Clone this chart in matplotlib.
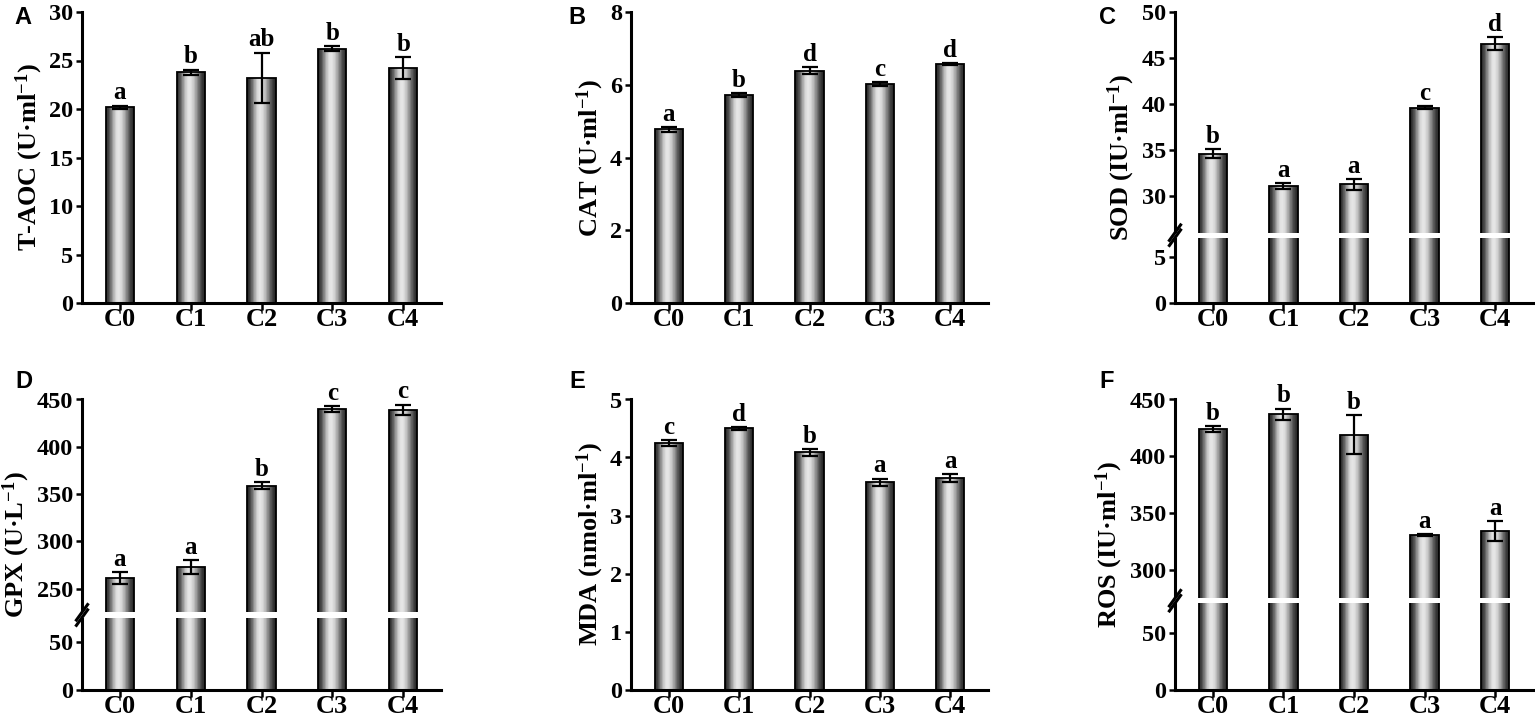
import numpy as np
import matplotlib
matplotlib.use('Agg')
import matplotlib.pyplot as plt
from matplotlib.patches import Rectangle

plt.rcParams['font.family'] = ['Liberation Serif', 'DejaVu Serif']
plt.rcParams['font.weight'] = 'bold'
plt.rcParams['mathtext.fontset'] = 'custom'
plt.rcParams['mathtext.rm'] = 'Liberation Serif:bold'
plt.rcParams['mathtext.it'] = 'Liberation Serif:bold:italic'
plt.rcParams['mathtext.bf'] = 'Liberation Serif:bold'
plt.rcParams['mathtext.default'] = 'rm'

groups = ['C0', 'C1', 'C2', 'C3', 'C4']

taoc = [20.2, 23.8, 23.2, 26.2, 24.2]
taoc_err = [0.15, 0.25, 2.6, 0.25, 1.15]
taoc_sig = ['a', 'b', 'ab', 'b', 'b']

cat = [4.77, 5.71, 6.39, 6.02, 6.57]
cat_err = [0.07, 0.05, 0.09, 0.06, 0.02]
cat_sig = ['a', 'b', 'd', 'c', 'd']

sod = [34.6, 31.1, 31.25, 39.6, 46.55]
sod_err = [0.45, 0.3, 0.6, 0.2, 0.73]
sod_sig = ['b', 'a', 'a', 'c', 'd']

gpx = [261, 273, 359, 440, 439]
gpx_err = [6.5, 7, 3.3, 2.8, 5.5]
gpx_sig = ['a', 'a', 'b', 'c', 'c']

mda = [4.25, 4.50, 4.09, 3.575, 3.65]
mda_err = [0.047, 0.03, 0.058, 0.06, 0.066]
mda_sig = ['c', 'd', 'b', 'a', 'a']

ros = [424, 437, 419, 330.5, 334]
ros_err = [2.6, 5, 17.4, 1, 8.6]
ros_sig = ['b', 'b', 'b', 'a', 'a']

W, H = 1535, 723
fig = plt.figure(figsize=(W / 100, H / 100), dpi=100)

cols = [(82, 441), (631, 988), (1175, 1533)]
rows = [(12, 303), (399.5, 689.5)]

panels = [
    dict(letter='A', ylabel='T-AOC (U·ml$^{-1}$)', v=taoc, e=taoc_err, s=taoc_sig,
         top=30, ticks=[0, 5, 10, 15, 20, 25, 30], brk=None, r=0, c=0, lp=(23, 18)),
    dict(letter='B', ylabel='CAT (U·ml$^{-1}$)', v=cat, e=cat_err, s=cat_sig,
         top=8, ticks=[0, 2, 4, 6, 8], brk=None, r=0, c=1, lp=(577, 17)),
    dict(letter='C', ylabel='SOD (IU·ml$^{-1}$)', v=sod, e=sod_err, s=sod_sig,
         top=50, ticks=[0, 5, 30, 35, 40, 45, 50], brk=(7.1, 26.0, 0.55), r=0, c=2, lp=(1108, 17)),
    dict(letter='D', ylabel='GPX (U·L$^{-1}$)', v=gpx, e=gpx_err, s=gpx_sig,
         top=450, ticks=[0, 50, 250, 300, 350, 400, 450], brk=(76, 225, 5.6), r=1, c=0, lp=(24, 381)),
    dict(letter='E', ylabel='MDA (nmol·ml$^{-1}$)', v=mda, e=mda_err, s=mda_sig,
         top=5, ticks=[0, 1, 2, 3, 4, 5], brk=None, r=1, c=1, lp=(577, 381)),
    dict(letter='F', ylabel='ROS (IU·ml$^{-1}$)', v=ros, e=ros_err, s=ros_sig,
         top=450, ticks=[0, 50, 300, 350, 400, 450], brk=(76, 275, 4.4), r=1, c=2, lp=(1107, 381)),
]

N = 48
t = (np.arange(N) + 0.5) / N
prof = np.where(t < 0.45, t / 0.45, (1 - t) / 0.55)
gray = 0.16 + 0.74 * np.sin(np.pi / 2 * prof) ** 1.8
strip_colors = [(g, g, g) for g in gray]
bw = 0.4

for p in panels:
    x0, x1 = cols[p['c']]
    yt, yb = rows[p['r']]
    ax = fig.add_axes([x0 / W, 1 - yb / H, (x1 - x0) / W, (yb - yt) / H])
    if p['brk'] is not None:
        L, U, g = p['brk']
        xp = np.array([-1e6, L, U, 1e6])
        fp = np.array([-1e6, L, L + g, 1e6 - U + L + g])
        ax.set_yscale('function',
                      functions=(lambda y, xp=xp, fp=fp: np.interp(y, xp, fp),
                                 lambda v, xp=xp, fp=fp: np.interp(v, fp, xp)))
    xs = np.arange(len(groups))
    for i, val in enumerate(p['v']):
        sx = i + (t - 0.5) * bw
        ax.bar(sx, [val] * N, width=bw / N * 1.05, color=strip_colors, linewidth=0, zorder=2)
    ax.bar(xs, p['v'], width=bw, fill=False, edgecolor='black', linewidth=1.3, zorder=2.2)
    ax.errorbar(xs, p['v'], yerr=p['e'], fmt='none', ecolor='black', elinewidth=1.6,
                capsize=5.5, capthick=1.6, zorder=2.6)
    for i, (val, err, sg) in enumerate(zip(p['v'], p['e'], p['s'])):
        ax.annotate(sg, xy=(i, val + err), xytext=(0, 4.5), textcoords='offset points',
                    ha='center', va='baseline', fontsize=18, fontweight='bold')
    ax.set_xlim(-0.535, 4.535)
    ax.set_ylim(0, p['top'])
    ax.set_yticks(p['ticks'])
    ax.set_yticklabels([str(v) for v in p['ticks']])
    ax.set_xticks(xs)
    ax.set_xticklabels(groups)
    ax.minorticks_off()
    for sp in ['top', 'right']:
        ax.spines[sp].set_visible(False)
    for sp in ['left', 'bottom']:
        ax.spines[sp].set_linewidth(2.2)
    ax.tick_params(axis='y', direction='out', length=4.5, width=1.8, labelsize=17.5, pad=2)
    ax.tick_params(axis='x', direction='out', length=5, width=1.8, labelsize=19, pad=-1.2)
    ax.set_ylabel(p['ylabel'], fontsize=19, fontweight='bold', labelpad=3)
    if p['brk'] is not None:
        L, U, g = p['brk']
        ax.add_patch(Rectangle((-0.03, L), 1.03, U - L, transform=ax.get_yaxis_transform(),
                               facecolor='white', edgecolor='none', zorder=3, clip_on=False))
        fwd = lambda y, xp=xp, fp=fp: np.interp(y, xp, fp)
        span = fwd(p['top'])
        wpx, hpx = x1 - x0, yb - yt
        dx, dy = 6.5 / wpx, 9.0 / hpx
        for yy in (fwd(L) / span, fwd(U) / span):
            ax.plot([-dx, dx], [yy - dy, yy + dy], transform=ax.transAxes, color='black',
                    lw=2.2, clip_on=False, zorder=4, solid_capstyle='butt')
    fig.text(p['lp'][0] / W, 1 - p['lp'][1] / H, p['letter'], family='Liberation Sans',
             fontweight='bold', fontsize=17, ha='center', va='center')

fig.savefig('out.png', dpi=100)
